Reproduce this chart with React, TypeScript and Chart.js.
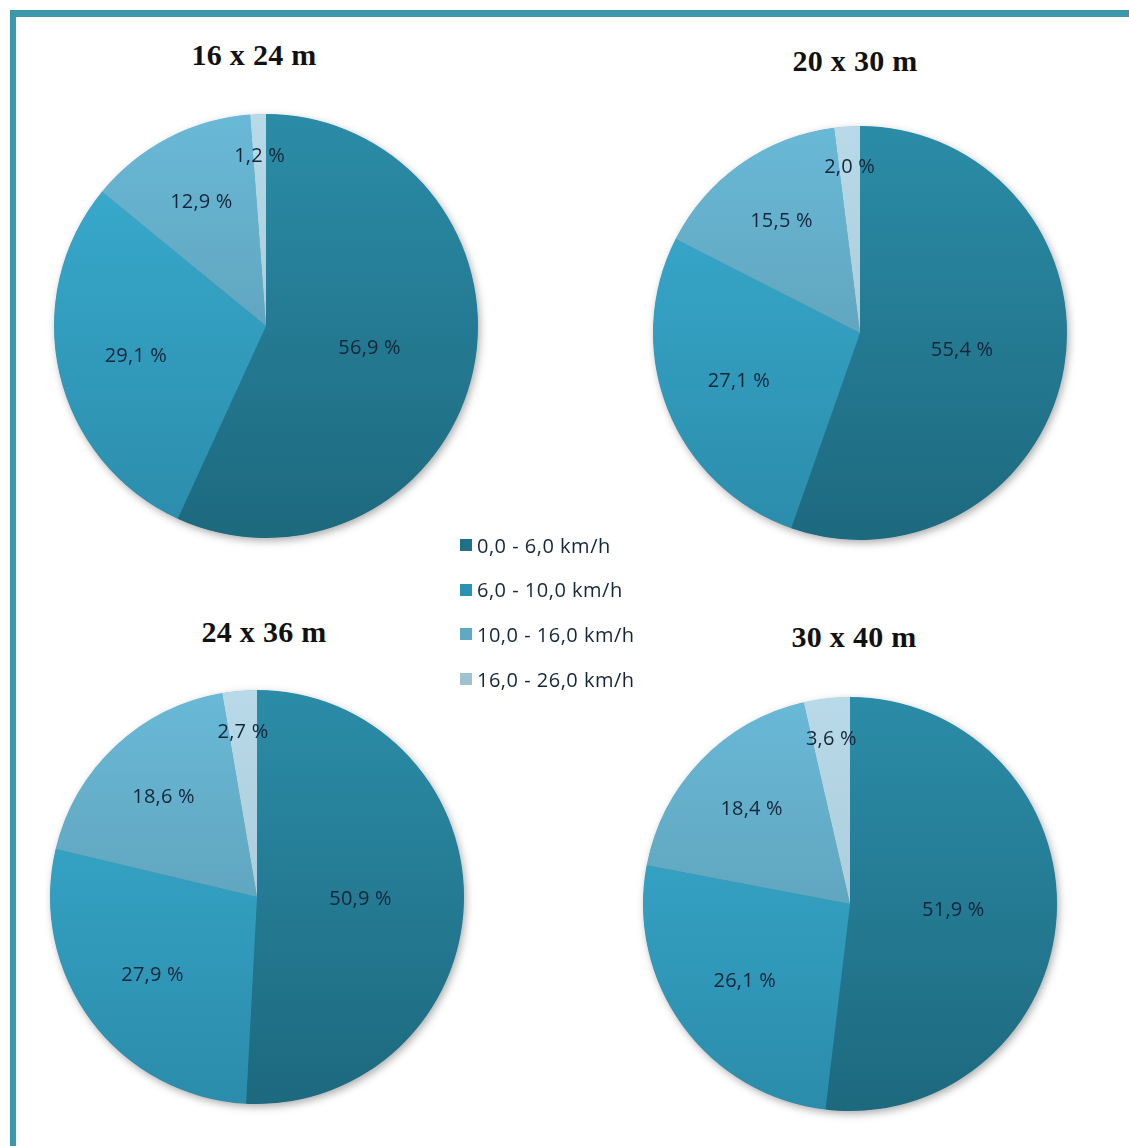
import React, { useEffect, useRef } from "react";
import { Chart, registerables } from "chart.js";

Chart.register(...registerables);

const categories = ["0,0 - 6,0 km/h", "6,0 - 10,0 km/h", "10,0 - 16,0 km/h", "16,0 - 26,0 km/h"];
const titles = ["16 x 24 m", "20 x 30 m", "24 x 36 m", "30 x 40 m"];
const values16x24 = [56.9, 29.1, 12.9, 1.2];
const values20x30 = [55.4, 27.1, 15.5, 2.0];
const values24x36 = [50.9, 27.9, 18.6, 2.7];
const values30x40 = [51.9, 26.1, 18.4, 3.6];
const seriesList = [values16x24, values20x30, values24x36, values30x40];

// layout (style only)
const pieLayout = [
  { cx: 266, cy: 326, r: 212, tx: 254, ty: 55 },
  { cx: 860, cy: 333, r: 207, tx: 855, ty: 61 },
  { cx: 257, cy: 897, r: 207, tx: 264, ty: 632 },
  { cx: 850, cy: 904, r: 207, tx: 854, ty: 637 },
];
const gradTop = ["#2b8ca7", "#3aaed2", "#68b9d7", "#b8dae8"];
const gradBottom = ["#1d697e", "#2b8cab", "#5b93a8", "#a0c3d1"];
const swatch = ["#1f7189", "#2a93b2", "#60a8c3", "#9fc2d1"];
const labelFrac = [0.5, 0.63, 0.66, 0.8];
const PAD = 14;

const labelPlugin = {
  id: "sliceLabels",
  beforeDatasetsDraw(chart: any) {
    const meta = chart.getDatasetMeta(0);
    const a = meta.data[0];
    if (!a) return;
    const ctx = chart.ctx;
    ctx.save();
    ctx.shadowColor = "rgba(0,0,0,0.35)";
    ctx.shadowBlur = 8;
    ctx.shadowOffsetX = 2;
    ctx.shadowOffsetY = 3;
    ctx.fillStyle = "#2a7f96";
    ctx.beginPath();
    ctx.arc(a.x, a.y, a.outerRadius - 0.5, 0, Math.PI * 2);
    ctx.fill();
    ctx.restore();
  },
  afterDatasetsDraw(chart: any) {
    const ctx = chart.ctx;
    const meta = chart.getDatasetMeta(0);
    const data = chart.data.datasets[0].data as number[];
    ctx.save();
    ctx.font = '20px "Open Sans", "Lato", sans-serif';
    (ctx as any).letterSpacing = "0.2px";
    ctx.fillStyle = "#15263a";
    ctx.textAlign = "center";
    ctx.textBaseline = "middle";
    meta.data.forEach((el: any, i: number) => {
      const mid = (el.startAngle + el.endAngle) / 2;
      const rr = el.outerRadius * labelFrac[i];
      const x = el.x + Math.cos(mid) * rr;
      const y = el.y + Math.sin(mid) * rr;
      ctx.fillText(data[i].toFixed(1).replace(".", ",") + " %", x, y);
    });
    ctx.restore();
  },
};

function PieChart({ idx }: { idx: number }) {
  const ref = useRef<HTMLCanvasElement | null>(null);
  const L = pieLayout[idx];
  const size = 2 * L.r + 2 * PAD;
  useEffect(() => {
    if (!ref.current) return;
    const chart = new Chart(ref.current, {
      type: "pie",
      data: {
        labels: categories,
        datasets: [
          {
            data: seriesList[idx],
            borderWidth: 0,
            backgroundColor: (c: any) => {
              const area = c.chart.chartArea;
              const i = c.dataIndex;
              if (!area) return gradTop[i];
              const g = c.chart.ctx.createLinearGradient(0, area.top, 0, area.bottom);
              g.addColorStop(0, gradTop[i]);
              g.addColorStop(1, gradBottom[i]);
              return g;
            },
          },
        ],
      },
      options: {
        animation: false,
        responsive: false,
        maintainAspectRatio: false,
        layout: { padding: PAD },
        plugins: {
          legend: { display: false },
          tooltip: { enabled: false },
          title: { display: false },
        },
      },
      plugins: [labelPlugin],
    });
    return () => chart.destroy();
  }, [idx]);
  return (
    <>
      <div
        style={{
          position: "absolute",
          left: L.tx - 150,
          top: L.ty - 20,
          width: 300,
          height: 40,
          lineHeight: "40px",
          textAlign: "center",
          fontFamily: '"Liberation Serif", "Times New Roman", serif',
          fontWeight: "bold",
          fontSize: 30,
          letterSpacing: 0.3,
          color: "#111",
        }}
      >
        {titles[idx]}
      </div>
      <canvas
        ref={ref}
        width={size}
        height={size}
        style={{ position: "absolute", left: L.cx - size / 2, top: L.cy - size / 2, width: size, height: size }}
      />
    </>
  );
}

export default function App() {
  return (
    <div style={{ position: "absolute", left: 0, top: 0, width: 1129, height: 1146, background: "#fff", overflow: "hidden" }}>
      <div style={{ position: "absolute", left: 10, top: 10, width: 1119, height: 7, background: "#3a97ac" }} />
      <div style={{ position: "absolute", left: 10, top: 10, width: 6, height: 1136, background: "#3a97ac" }} />
      {[0, 1, 2, 3].map((i) => (
        <PieChart key={i} idx={i} />
      ))}
      <div style={{ position: "absolute", left: 460, top: 530 }}>
        {categories.map((c, i) => (
          <div
            key={c}
            style={{
              position: "absolute",
              left: 0,
              top: i * 44.7,
              height: 30,
              display: "flex",
              alignItems: "center",
              whiteSpace: "nowrap",
              fontFamily: '"Open Sans", "Lato", sans-serif',
              fontSize: 20,
              letterSpacing: 0.5,
              color: "#15263a",
            }}
          >
            <span style={{ display: "inline-block", width: 12, height: 12, background: swatch[i], marginRight: 5 }} />
            {c}
          </div>
        ))}
      </div>
    </div>
  );
}
